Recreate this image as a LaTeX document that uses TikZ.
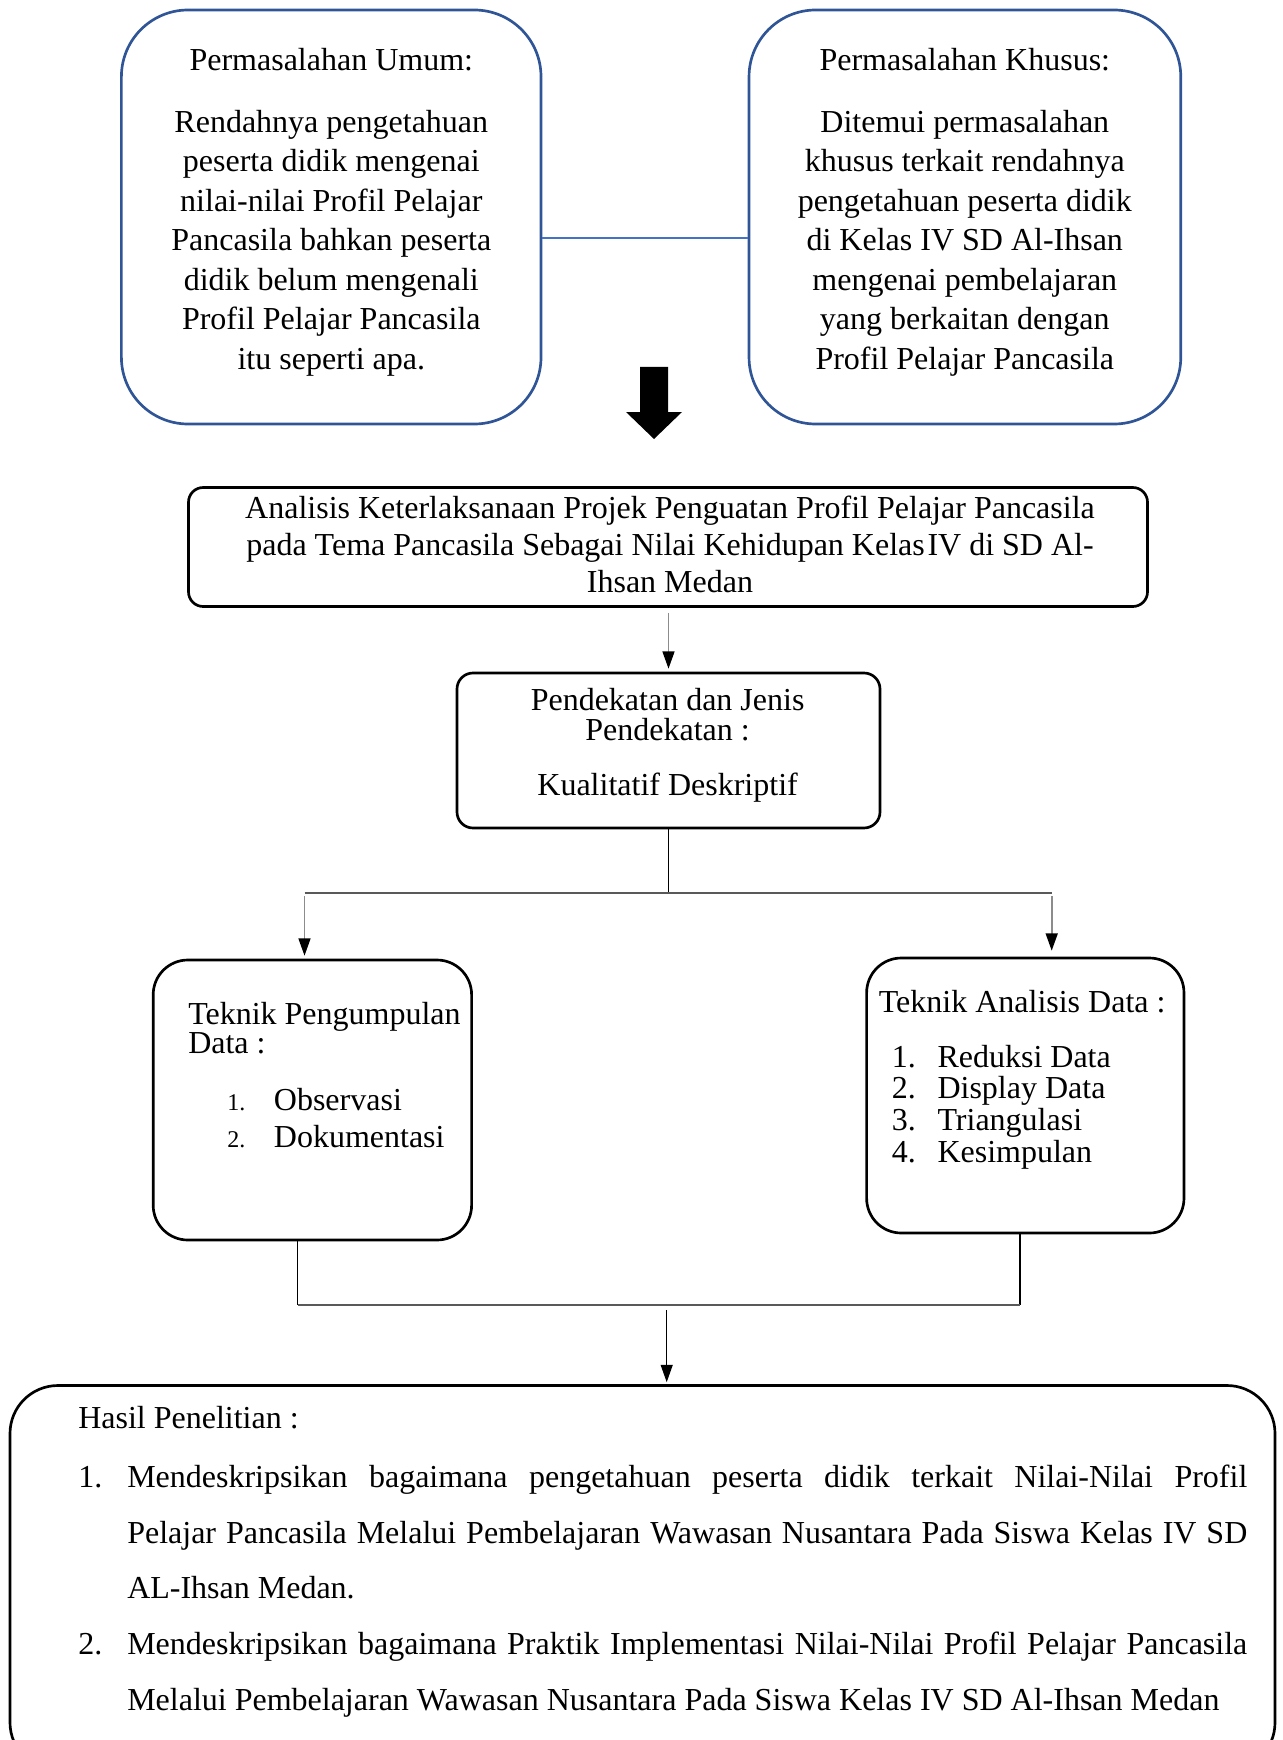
\documentclass[tikz,border=0pt]{standalone}
\usepackage{fontspec}
\setmainfont{Liberation Serif}
\usetikzlibrary{arrows.meta}
\definecolor{boxblue}{HTML}{2F5597}
\definecolor{linkblue}{HTML}{4472C4}
\definecolor{shaftgray}{HTML}{8C8C8C}
\definecolor{hgray}{HTML}{595959}
\newcommand\ts{\rule{0pt}{18pt}}
\begin{document}
\begin{tikzpicture}[x=0.75pt,y=-0.75pt,
  bluebox/.style={draw=boxblue, line width=2pt, rounded corners=50pt, inner sep=0pt, rectangle},
  blackbox/.style={draw=black, line width=2pt, inner sep=0pt, rectangle},
  txtC/.style={inner sep=0pt, anchor=north, align=center, font=\fontsize{24}{29.6}\selectfont},
  txtL/.style={inner sep=0pt, anchor=north west, align=left, font=\fontsize{24}{29.6}\selectfont},
  thinln/.style={draw=black, line width=0.8pt},
  hln/.style={draw=hgray, line width=1.5pt},
  arr/.style={draw=shaftgray, line width=1.2pt, -{Triangle[length=13pt,width=9pt,color=black]}},
  arrk/.style={draw=black, line width=0.8pt, -{Triangle[length=13pt,width=9pt,color=black]}}
]
\useasboundingbox (0,0) rectangle (1282,1740);

% top boxes
\node[bluebox, minimum width=314.7pt, minimum height=310.5pt] (umum) at (331.2,217) {};
\node[bluebox, minimum width=323.8pt, minimum height=310.5pt] (khusus) at (964.9,217) {};
\node[txtC] (umumT) at (331.3,46) {\ts Permasalahan Umum:};
\node[txtC] (umumB) at (331.3,108) {\ts Rendahnya pengetahuan\\peserta didik mengenai\\nilai-nilai Profil Pelajar\\Pancasila bahkan peserta\\didik belum mengenali\\Profil Pelajar Pancasila\\itu seperti apa.};
\node[txtC] (khususT) at (964.8,46) {\ts Permasalahan Khusus:};
\node[txtC] (khususB) at (964.8,108) {\ts Ditemui permasalahan\\khusus terkait rendahnya\\pengetahuan peserta didik\\di Kelas IV SD Al-Ihsan\\mengenai pembelajaran\\yang berkaitan dengan\\Profil Pelajar Pancasila};
\draw[linkblue, line width=1.2pt] ([yshift=-15.75pt]umum.east) -- ([yshift=-15.75pt]khusus.west);

% fat arrow
\fill[black] (640,367) -- (668,367) -- (668,412) -- (682,412) -- (654,439) -- (626,412) -- (640,412) -- cycle;

% analisis
\node[blackbox, rounded corners=11pt, minimum width=719.25pt, minimum height=89.25pt] (analisis) at (668,547) {};
\node[txtC, font=\fontsize{24}{27.75}\selectfont] (analisisT) at (670,494) {\ts Analisis Keterlaksanaan Projek Penguatan Profil Pelajar Pancasila\\pada Tema Pancasila Sebagai Nilai Kehidupan Kelas\hspace{2pt}IV di SD Al-\\Ihsan Medan};

% pendekatan
\node[blackbox, rounded corners=12pt, minimum width=317.25pt, minimum height=116.25pt] (pendekatan) at (668.5,750.5) {};
\node[txtC, font=\fontsize{24}{22.5}\selectfont] (pendT) at (667.6,686) {\ts Pendekatan dan Jenis\\Pendekatan :\\[18.75pt]Kualitatif Deskriptif};
\draw[arr, shorten >=2.25pt] ([yshift=-3.75pt]pendekatan.north |- analisis.south) -- (pendekatan.north);

% split
\coordinate (jt) at (668.5,893);
\coordinate (jl) at (304.5,893);
\coordinate (jr) at (1051.7,893);

% teknik boxes
\node[blackbox, rounded corners=26pt, minimum width=238.8pt, minimum height=210pt] (tp) at (312.4,1100) {};
\node[txtL, font=\fontsize{24}{21.75}\selectfont] (tpT) at (188,1000) {\ts Teknik Pengumpulan\\Data :};
\node[txtL, font=\fontsize{24}{27.75}\selectfont] (tpL) at (227,1086) {\ts\makebox[35pt][l]{\fontsize{18}{18}\selectfont 1.}Observasi\\\makebox[35pt][l]{\fontsize{18}{18}\selectfont 2.}Dokumentasi};

\node[blackbox, rounded corners=26pt, minimum width=238pt, minimum height=206.25pt] (ta) at (1025.3,1095.5) {};
\node[txtL] (taT) at (878.6,988) {\ts Teknik Analisis Data :};
\node[txtL, font=\fontsize{24}{23.75}\selectfont] (taL) at (891.5,1043) {\ts\makebox[34.3pt][l]{1.}Reduksi Data\\\makebox[34.3pt][l]{2.}Display Data\\\makebox[34.3pt][l]{3.}Triangulasi\\\makebox[34.3pt][l]{4.}Kesimpulan};

\draw[thinln] (pendekatan.south) -- (jt);
\draw[hln] (jl) -- (jr);
\draw[arr, shorten >=2.25pt] ([yshift=-2.25pt]jl) -- (jl |- tp.north);
\draw[arr, shorten >=4.5pt] ([yshift=-2.25pt]jr) -- (jr |- ta.north);

% bottom join
\coordinate (bl) at (297.5,1305);
\coordinate (br) at (1020,1305);
\coordinate (bm) at (666.7,1305);

% hasil
\node[blackbox, rounded corners=36pt, minimum width=948.75pt, minimum height=288.75pt] (hasil) at (642.5,1578) {};
\node[txtL] (hasilT) at (78,1404) {\ts Hasil Penelitian :};
\node[txtL, font=\fontsize{24}{41.8}\selectfont] (hasilL) at (78,1463) {\ts\makebox[36.75pt][l]{1.}\makebox[840pt][s]{Mendeskripsikan bagaimana pengetahuan peserta didik terkait Nilai-Nilai Profil}\\
\hspace*{36.75pt}\makebox[840pt][s]{Pelajar Pancasila Melalui Pembelajaran Wawasan Nusantara Pada Siswa Kelas IV SD}\\
\hspace*{36.75pt}AL-Ihsan Medan.\\
\makebox[36.75pt][l]{2.}\makebox[840pt][s]{Mendeskripsikan bagaimana Praktik Implementasi Nilai-Nilai Profil Pelajar Pancasila}\\
\hspace*{36.75pt}Melalui Pembelajaran Wawasan Nusantara Pada Siswa Kelas IV SD Al-Ihsan Medan};

\draw[thinln] (tp.south -| bl) -- (bl);
\draw[thinln] (ta.south -| br) -- (br);
\draw[hln] (bl) -- (br);
\draw[arrk, shorten >=1.5pt] ([yshift=-3.75pt]bm) -- (bm |- hasil.north);
\end{tikzpicture}
\end{document}
